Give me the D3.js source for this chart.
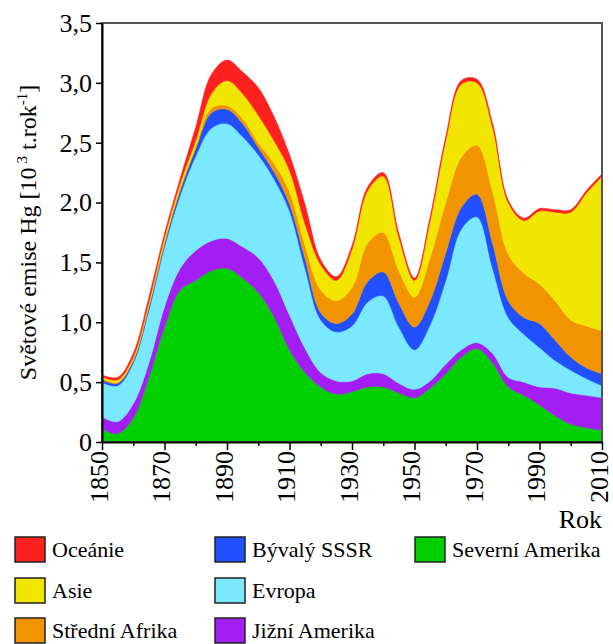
<!DOCTYPE html>
<html>
<head>
<meta charset="utf-8">
<script src="https://cdn.jsdelivr.net/npm/d3@7"></script>
<style>
  body { margin: 0; background: #fff; }
  svg { display: block; }
  svg text { font-family: "Liberation Serif", Tinos, "Times New Roman", "DejaVu Serif", serif; fill: #000; }
</style>
</head>
<body>
<div id="chart"></div>
<script>
// roky (po 5 letech) a emise Hg po regionech [10^3 t/rok]
var years = [1850,1855,1860,1865,1870,1875,1880,1885,1890,1895,1900,1905,1910,1915,1920,1925,
             1930,1935,1940,1945,1950,1955,1960,1965,1970,1975,1980,1985,1990,1995,2000,2005,2010];

var severniAmerika = [0.11,0.07,0.20,0.54,0.96,1.27,1.35,1.43,1.45,1.37,1.25,1.05,0.77,0.58,0.46,0.40,
                      0.42,0.46,0.46,0.41,0.37,0.45,0.57,0.71,0.78,0.66,0.46,0.39,0.31,0.22,0.15,0.12,0.10];
var jizniAmerika   = [0.10,0.10,0.12,0.12,0.17,0.18,0.25,0.25,0.25,0.26,0.29,0.30,0.29,0.20,0.12,0.11,
                      0.09,0.11,0.11,0.08,0.07,0.06,0.08,0.06,0.05,0.08,0.08,0.11,0.15,0.23,0.26,0.27,0.27];
var evropa         = [0.29,0.30,0.34,0.44,0.50,0.61,0.79,0.94,0.96,0.92,0.86,0.85,0.87,0.67,0.44,0.41,
                      0.46,0.60,0.65,0.47,0.33,0.47,0.70,1.01,1.05,0.71,0.50,0.40,0.33,0.23,0.19,0.14,0.10];
var byvalySSSR     = [0.02,0.02,0.02,0.03,0.03,0.04,0.06,0.13,0.12,0.11,0.06,0.06,0.06,0.08,0.06,0.07,
                      0.10,0.17,0.20,0.20,0.19,0.20,0.23,0.18,0.19,0.21,0.14,0.14,0.20,0.17,0.11,0.09,0.10];
var stredniAfrika  = [0.01,0.01,0.01,0.01,0.01,0.02,0.02,0.04,0.03,0.04,0.04,0.07,0.10,0.11,0.19,0.19,
                      0.22,0.32,0.33,0.27,0.25,0.36,0.42,0.42,0.41,0.43,0.39,0.37,0.33,0.33,0.31,0.35,0.36];
var asie           = [0.015,0.02,0.02,0.03,0.04,0.04,0.05,0.12,0.21,0.21,0.23,0.19,0.18,0.18,0.21,0.17,
                      0.32,0.44,0.47,0.28,0.14,0.31,0.52,0.61,0.52,0.54,0.43,0.44,0.61,0.74,0.90,1.11,1.29];
var oceanie        = [0.015,0.02,0.03,0.04,0.03,0.04,0.11,0.16,0.17,0.18,0.23,0.20,0.13,0.16,0.04,0.03,
                      0.03,0.03,0.03,0.03,0.02,0.03,0.03,0.03,0.03,0.03,0.02,0.02,0.02,0.02,0.02,0.02,0.02];

var names  = ["Severní Amerika","Jižní Amerika","Evropa","Bývalý SSSR","Střední Afrika","Asie","Oceánie"];
var series = [severniAmerika, jizniAmerika, evropa, byvalySSSR, stredniAfrika, asie, oceanie];
var colors = ["#00d000","#a21ef2","#7ae8ff","#2050ff","#f29400","#f2e600","#ff2020"];

var yTicks = [0,0.5,1,1.5,2,2.5,3,3.5];
var xTicks = [1850,1870,1890,1910,1930,1950,1970,1990,2010];
var xMinor = [1860,1880,1900,1920,1940,1960,1980,2000];

// legenda: 3 radky, poradi po sloupcich
var legendOrder = ["Oceánie","Asie","Střední Afrika","Bývalý SSSR","Evropa","Jižní Amerika","Severní Amerika"];

var W = 613, H = 644;
var margin = {left: 102, top: 23};
var width = 500, height = 419;
var serif = '"Liberation Serif", Tinos, "Times New Roman", "DejaVu Serif", serif';

var svg = d3.select("#chart").append("svg").attr("width", W).attr("height", H);
var g = svg.append("g").attr("transform", "translate(" + margin.left + "," + margin.top + ")");

var x = d3.scaleLinear().domain([1850, 2010]).range([0, width]);
var y = d3.scaleLinear().domain([0, 3.5]).range([height, 0]);

var table = years.map(function(yr, i) {
    var row = {year: yr};
    names.forEach(function(n, k) { row[n] = series[k][i]; });
    return row;
});

var layers = d3.stack().keys(names)(table);

var area = d3.area()
    .curve(d3.curveCatmullRom.alpha(0.5))
    .x(function(d) { return x(d.data.year); })
    .y0(function(d) { return y(d[0]); })
    .y1(function(d) { return y(d[1]); });

g.selectAll(".layer")
    .data(layers)
    .enter()
    .append("path")
    .attr("class", "layer")
    .attr("d", area)
    .attr("fill", function(d, i) { return colors[i]; })
    .attr("stroke", function(d, i) { return colors[i]; })
    .attr("stroke-width", 0.6);

// ramecek
g.append("rect")
    .attr("x", 0).attr("y", 0)
    .attr("width", width).attr("height", height)
    .attr("fill", "none")
    .attr("stroke", "#555")
    .attr("stroke-width", 2);

var fmt = function(v) { return v === 0 ? "0" : d3.format(".1f")(v).replace(".", ","); };

var yAxis = g.append("g")
    .call(d3.axisLeft(y).tickValues(yTicks).tickFormat(fmt).tickSize(6).tickSizeOuter(0));
yAxis.attr("font-family", null);
yAxis.select(".domain").attr("stroke", "#000").attr("stroke-width", 2);
yAxis.selectAll(".tick line").attr("stroke", "#000").attr("stroke-width", 1.5);
yAxis.selectAll("text")
    .attr("x", -10)
    .style("font-family", serif)
    .style("font-size", "26px");

var xMinorAxis = g.append("g")
    .attr("transform", "translate(0," + height + ")")
    .call(d3.axisBottom(x).tickValues(xMinor).tickSize(4).tickFormat(""));
xMinorAxis.select(".domain").remove();
xMinorAxis.selectAll(".tick line").attr("stroke", "#000").attr("stroke-width", 1.5);

var xAxis = g.append("g")
    .attr("transform", "translate(0," + height + ")")
    .call(d3.axisBottom(x).tickValues(xTicks).tickFormat(d3.format("d")).tickSize(8).tickSizeOuter(0));
xAxis.attr("font-family", null);
xAxis.select(".domain").attr("stroke", "#000").attr("stroke-width", 2);
xAxis.selectAll(".tick line").attr("stroke", "#000").attr("stroke-width", 1.5);
xAxis.selectAll("text")
    .attr("transform", "rotate(-90)")
    .attr("text-anchor", "end")
    .attr("x", -9)
    .attr("y", 0)
    .attr("dy", "0.2em")
    .style("font-family", serif)
    .style("font-size", "26px");

svg.append("text")
    .attr("x", 602).attr("y", 528)
    .attr("text-anchor", "end")
    .style("font-family", serif)
    .style("font-size", "26px")
    .text("Rok");

var yt = svg.append("text")
    .attr("transform", "translate(36," + (margin.top + height / 2) + ") rotate(-90)")
    .attr("text-anchor", "middle")
    .style("font-family", serif)
    .style("font-size", "24px");
yt.append("tspan").text("Světové emise Hg [10");
yt.append("tspan").attr("dx", "4").attr("dy", "-9").style("font-size", "15px").text("3");
yt.append("tspan").attr("dy", "9").text(" t.rok");
yt.append("tspan").attr("dy", "-9").style("font-size", "15px").text("-1");
yt.append("tspan").attr("dy", "9").text("]");

// legenda
var colX = [15, 215, 415], rowY = [537, 578, 618];
var leg = svg.selectAll(".leg")
    .data(legendOrder)
    .enter()
    .append("g")
    .attr("class", "leg")
    .attr("transform", function(d, i) {
        return "translate(" + colX[Math.floor(i / 3)] + "," + rowY[i % 3] + ")";
    });
leg.append("rect")
    .attr("width", 30).attr("height", 25)
    .attr("fill", function(d) { return colors[names.indexOf(d)]; })
    .attr("stroke", "#222")
    .attr("stroke-width", 1.5);
leg.append("text")
    .attr("x", 37).attr("y", 20)
    .style("font-family", serif)
    .style("font-size", "22px")
    .text(function(d) { return d; });
</script>
</body>
</html>
